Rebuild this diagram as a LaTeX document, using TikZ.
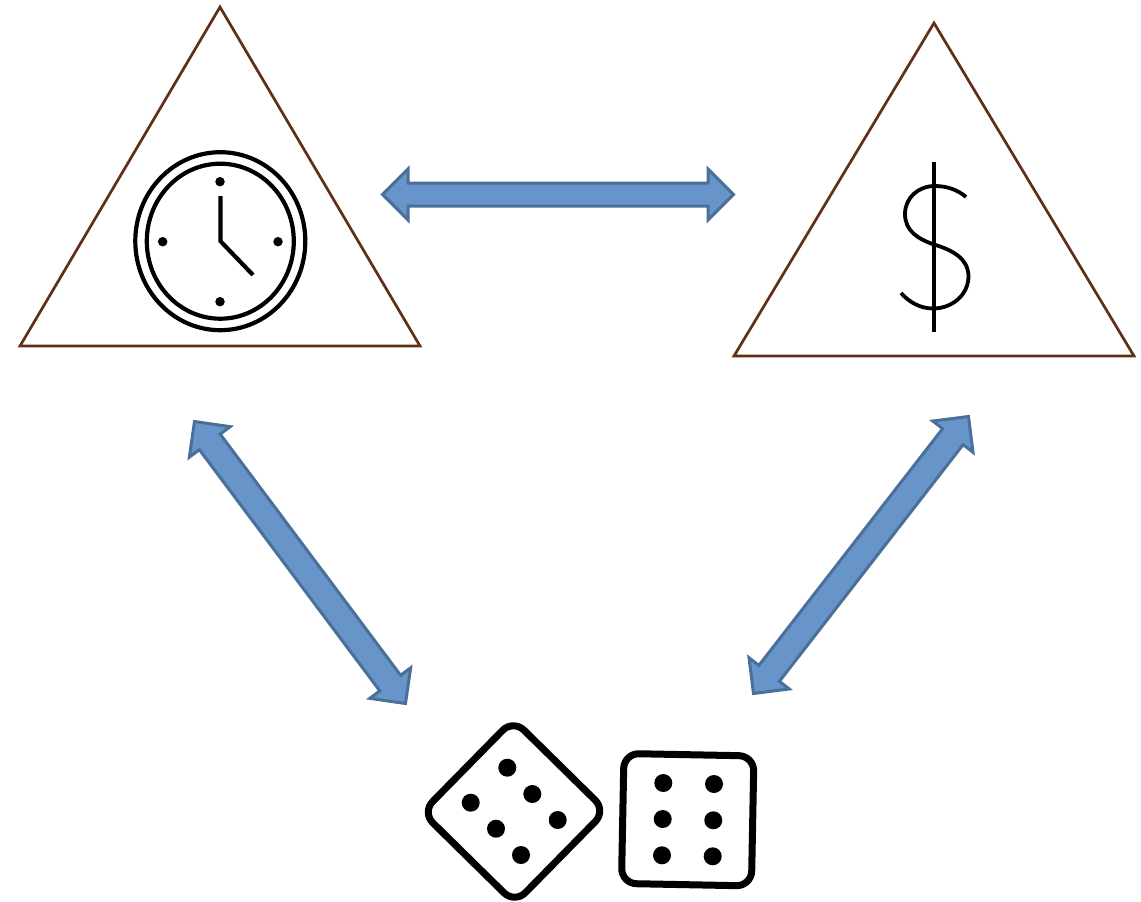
\documentclass[tikz,border=0pt]{standalone}
\usetikzlibrary{calc}
\tikzset{
  tri/.style={draw=triBrown,line width=2.7pt,line join=miter,fill=white},
  blockarrow/.style={draw=arrowEdge,fill=arrowFill,line width=3pt,line join=miter},
  icon/.style={draw=black,line width=4.2pt},
  pip/.style={circle,fill=black,inner sep=0pt,minimum size=#1},
  die/.style={draw=black,line width=7pt,rounded corners=15pt,minimum size=130pt,inner sep=0pt,fill=white}
}
\definecolor{triBrown}{HTML}{5F2F16}
\definecolor{arrowFill}{HTML}{6795C9}
\definecolor{arrowEdge}{HTML}{4A7099}
% double-headed block arrow between two named coordinates; #3 = half shaft width
\newcommand{\blockarr}[3]{%
  \path ($(#1)!25.5pt!(#2)$) coordinate (h1) ($(#2)!25.5pt!(#1)$) coordinate (h2);
  \draw[blockarrow] (#1)
    -- ($(h1)!25.5pt!90:(#2)$) -- ($(h1)!#3!90:(#2)$)
    -- ($(h2)!#3!-90:(#1)$) -- ($(h2)!25.5pt!-90:(#1)$)
    -- (#2)
    -- ($(h2)!25.5pt!90:(#1)$) -- ($(h2)!#3!90:(#1)$)
    -- ($(h1)!#3!-90:(#2)$) -- ($(h1)!25.5pt!-90:(#2)$)
    -- cycle;
}
\begin{document}
\begin{tikzpicture}[x=1pt,y=-1pt]
\useasboundingbox (0,0) rectangle (1141,902);
% triangles
\coordinate (la) at (220,7); \coordinate (lb) at (20,346); \coordinate (lc) at (420,346);
\coordinate (ra) at (934,23); \coordinate (rb) at (734,356); \coordinate (rc) at (1134,356);
\draw[tri] (la) -- (lb) -- (lc) -- cycle;
\draw[tri] (ra) -- (rb) -- (rc) -- cycle;
% arrows
\coordinate (hl) at (382.5,194.5); \coordinate (hr) at (733.5,194.5);
\coordinate (dlt) at (194.5,421.5); \coordinate (dlb) at (405.5,703.5);
\coordinate (drt) at (968.5,416.5); \coordinate (drb) at (753.5,693.5);
\blockarr{hl}{hr}{11.5pt}
\blockarr{dlt}{dlb}{13pt}
\blockarr{drt}{drb}{13pt}
% clock
\coordinate (cc) at (220.3,241.2);
\draw[icon] (cc) ellipse [x radius=85pt,y radius=89pt];
\draw[icon] (cc) ellipse [x radius=73.5pt,y radius=77.5pt];
\node[pip=9.5pt] (c12) at (220,181.7) {};
\node[pip=9.5pt] (c6) at (220,301.7) {};
\node[pip=9.5pt] (c9) at (162.7,241.7) {};
\node[pip=9.5pt] (c3) at (278,241.7) {};
\coordinate (h0) at (220.5,196); \coordinate (h3) at (253,275);
\draw[icon,line join=miter] (h0) -- (cc -| h0) -- (h3);
% dollar
\coordinate (d1) at (934,162.3); \coordinate (d2) at (934,331.7);
\draw[draw=black,line width=4pt] (d1) -- (d2);
\draw[draw=black,line width=3.8pt] (966,197) .. controls (958,190) and (947,186) .. (935,186)
  .. controls (918,186) and (905,198) .. (905,214)
  .. controls (905,231) and (918,239) .. (934,244.5)
  .. controls (952,250) and (968,258) .. (968.5,276)
  .. controls (968.5,295) and (952,308.5) .. (933,308.5)
  .. controls (920,308.5) and (909,302) .. (901,293);
% dice
\node[die,rotate=-44.5] (dieL) at (514,811.5) {};
\node[die,rotate=-1.1] (dieR) at (687.7,819.7) {};
\foreach \x/\y [count=\i] in {507.3/767.7,532.3/794,557.7/820,470.7/802.7,496/828.7,521/855}
  \node[pip=18pt] (lp\i) at (\x,\y) {};
\foreach \x/\y [count=\i] in {663.3/783,714/784,662.7/819,713.3/820.3,662/855.3,712.7/856.3}
  \node[pip=18pt] (rp\i) at (\x,\y) {};
\end{tikzpicture}
\end{document}
